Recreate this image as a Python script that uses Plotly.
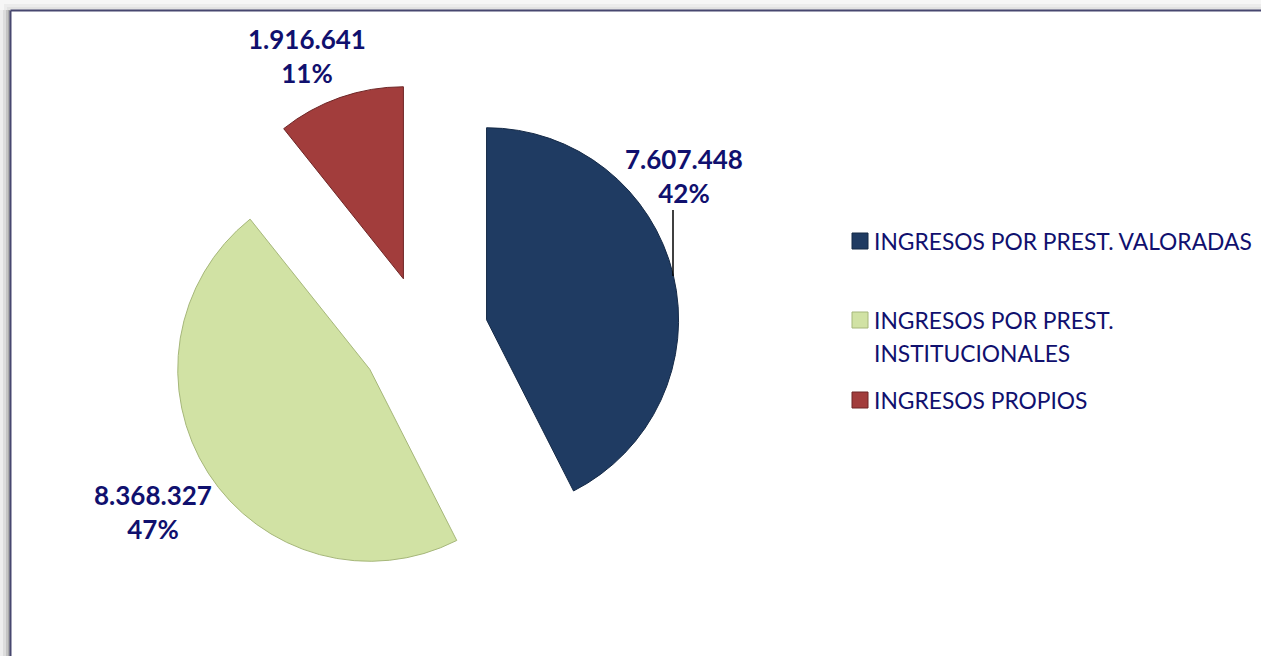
import plotly.graph_objects as go

# data
labels = ["INGRESOS POR PREST. VALORADAS", "INGRESOS POR PREST. INSTITUCIONALES", "INGRESOS PROPIOS"]
legend_lines = [["INGRESOS POR PREST. VALORADAS"], ["INGRESOS POR PREST.", "INSTITUCIONALES"], ["INGRESOS PROPIOS"]]
values = [7607448, 8368327, 1916641]
percents = [42, 47, 11]
colors = ["#1F3B62", "#D1E2A4", "#A23D3C"]
edge_colors = ["#152a47", "#a6b77a", "#6e2626"]

W, H = 1261, 656
NAVY = "#10106E"


def px(x, y):
    return x / W, 1 - y / H


def fmt(v):
    return f"{v:,}".replace(",", ".")


fig = go.Figure()

fig.add_trace(go.Pie(
    labels=labels,
    values=values,
    sort=False,
    direction="clockwise",
    rotation=0,
    pull=[0.34, 0.33, 0.31],
    marker=dict(colors=colors, line=dict(color=edge_colors, width=1)),
    textinfo="none",
    hoverinfo="label+value+percent",
    domain=dict(x=[0.08, 0.591], y=[0.0971, 0.8816]),
    showlegend=False,
))

annotations = []
# data labels
label_pos = [(684, 176), (153, 512), (307, 56)]
for v, p, (lx, ly) in zip(values, percents, label_pos):
    ax, ay = px(lx, ly)
    annotations.append(dict(
        x=ax, y=ay, xref="paper", yref="paper",
        text=f"<b>{fmt(v)}<br>{p}%</b>", showarrow=False,
        xanchor="center", yanchor="middle", align="center",
        font=dict(family="Lato", size=26, color=NAVY),
    ))

# hand-built legend (Excel style spacing)
shapes = []
item_y = [241, 320, 400]
for lines, c, ec, iy in zip(legend_lines, colors, edge_colors, item_y):
    x0, y0 = px(852, iy - 8)
    x1, y1 = px(868, iy + 8)
    shapes.append(dict(type="rect", xref="paper", yref="paper", x0=x0, y0=y0, x1=x1, y1=y1,
                       fillcolor=c, line=dict(color=ec, width=1)))
    for i, line in enumerate(lines):
        tx, ty = px(872, iy + i * 33)
        annotations.append(dict(
            x=tx, y=ty, xref="paper", yref="paper", text=line, showarrow=False,
            xanchor="left", yanchor="middle",
            font=dict(family="Lato", size=22.8, color=NAVY),
        ))

# leader line for the blue label
lx0, ly0 = px(673, 210)
lx1, ly1 = px(673, 276)
shapes.append(dict(type="line", xref="paper", yref="paper", x0=lx0, y0=ly0, x1=lx1, y1=ly1,
                   line=dict(color="black", width=1.5)))

# chart frame with a soft shadow, like the cropped Excel chart area
for off, col in [(0, "#eeeeee"), (3, "#dddddd"), (6, "#c4c4c4"), (8, "#aaaaaa")]:
    a0, b0 = px(off, H)
    a1, b1 = px(10, 0)
    shapes.append(dict(type="rect", xref="paper", yref="paper", x0=a0, y0=b0, x1=a1, y1=b1,
                       fillcolor=col, line=dict(width=0), layer="below"))
for off, col in [(0, "#f6f6f6"), (4, "#ececec"), (7, "#e2e2e2")]:
    a0, b0 = px(off, off)
    a1, b1 = px(W, 10)
    shapes.append(dict(type="rect", xref="paper", yref="paper", x0=a0, y0=b0, x1=a1, y1=b1,
                       fillcolor=col, line=dict(width=0), layer="below"))
fx0, fy0 = px(10.5, 656)
fx1, fy1 = px(10.5, 10.5)
fx2, fy2 = px(W, 10.5)
shapes.append(dict(type="line", xref="paper", yref="paper", x0=fx0, y0=fy0, x1=fx1, y1=fy1,
                   line=dict(color="#47476f", width=2)))
shapes.append(dict(type="line", xref="paper", yref="paper", x0=fx1, y0=fy1, x1=fx2, y1=fy2,
                   line=dict(color="#47476f", width=2)))

fig.update_layout(
    width=W, height=H,
    margin=dict(l=0, r=0, t=0, b=0),
    paper_bgcolor="white",
    plot_bgcolor="white",
    annotations=annotations,
    shapes=shapes,
    font=dict(family="Lato"),
)

fig.write_html("out.html", config={"displayModeBar": False},
               post_script="document.body.style.margin='0';document.body.style.overflow='hidden';")
